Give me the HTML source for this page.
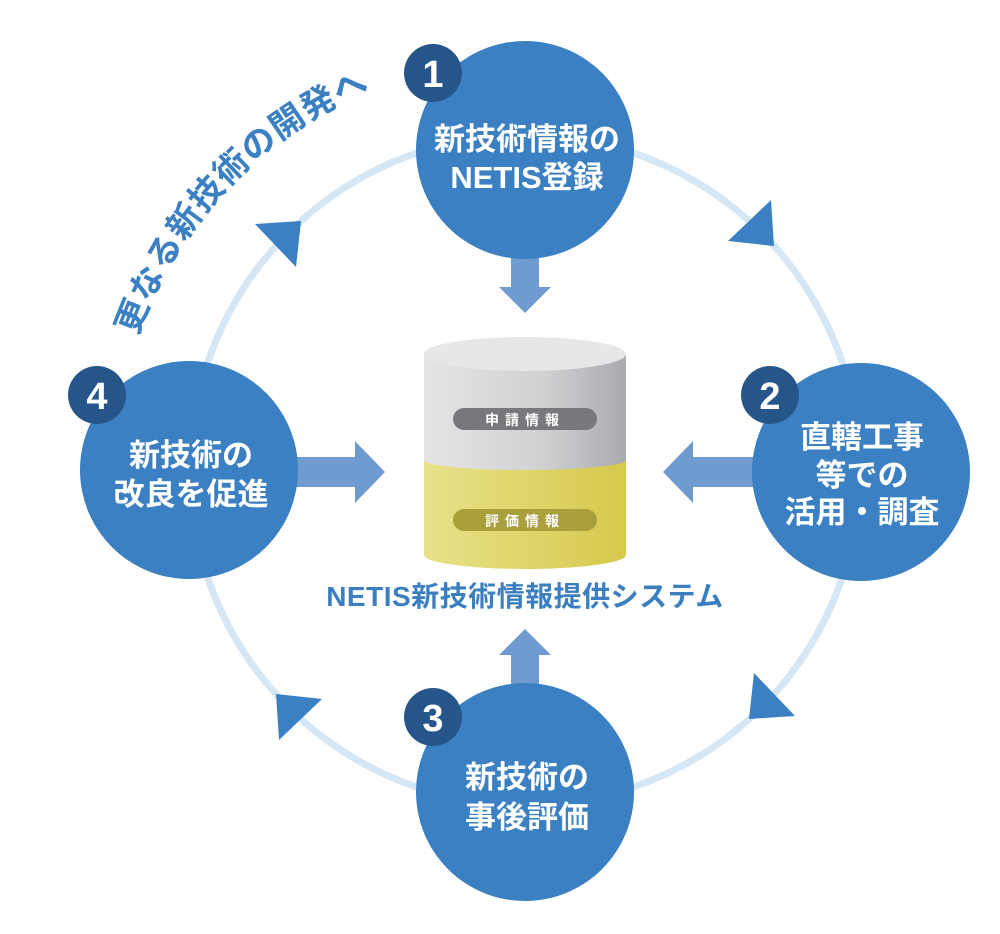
<!DOCTYPE html>
<html><head><meta charset="utf-8"><style>
html,body{margin:0;padding:0;background:#fff;}
svg{display:block;}
text{font-family:"Liberation Sans","Noto Sans CJK JP",sans-serif;font-weight:bold;}
</style></head><body>
<svg width="1000" height="934" viewBox="0 0 1000 934" xmlns="http://www.w3.org/2000/svg">
<defs>
<linearGradient id="gg" x1="0" x2="1" y1="0" y2="0"><stop offset="0" stop-color="#e4e5e6"/><stop offset="0.6" stop-color="#cfd0d2"/><stop offset="1" stop-color="#a9aaad"/></linearGradient>
<linearGradient id="yg" x1="0" x2="1" y1="0" y2="0"><stop offset="0" stop-color="#e8e18a"/><stop offset="1" stop-color="#d6c94c"/></linearGradient>
<path id="arc" d="M117.6 516.4 A410 410 0 0 1 550 60.8" fill="none"/>
</defs>
<circle cx="525" cy="470" r="335" fill="none" stroke="#d5e6f4" stroke-width="7"/>
<g fill="#3b80c2">
<polygon points="255,224 301,221 296,267"/>
<polygon points="255,224 301,221 296,267" transform="rotate(90 525 470)"/>
<polygon points="255,224 301,221 296,267" transform="rotate(180 525 470)"/>
<polygon points="255,224 301,221 296,267" transform="rotate(270 525 470)"/>
</g>
<text font-size="34" fill="#3b80c2" letter-spacing="1"><textPath href="#arc" startOffset="50%" text-anchor="middle">更なる新技術の開発へ</textPath></text>
<g fill="#6f9bd0">
<polygon points="511,256 539,256 539,287 551,287 525,313 499,287 511,287"/>
<polygon points="295,457 355,457 355,441 385,472 355,503 355,487 295,487"/>
<polygon points="755,457 693,457 693,441 663,472 693,503 693,487 755,487"/>
<polygon points="511,690 539,690 539,655 551,655 525,629 499,655 511,655"/>
</g>
<path d="M424 460 L424 555 A101 14 0 0 0 626 555 L626 460 Z" fill="url(#yg)"/>
<path d="M424 354 L424 460 A101 10 0 0 0 626 460 L626 354 Z" fill="url(#gg)"/>
<ellipse cx="525" cy="354" rx="101" ry="17" fill="#e6e7e8"/>
<rect x="453" y="408" width="144" height="22" rx="11" fill="#77787b"/>
<text x="525" y="425" font-size="14" fill="#fff" text-anchor="middle" letter-spacing="6">申請情報</text>
<rect x="453" y="509" width="144" height="22" rx="11" fill="#a9a03b"/>
<text x="525" y="526" font-size="14" fill="#fff" text-anchor="middle" letter-spacing="6">評価情報</text>
<text x="525" y="606" font-size="28" fill="#3b7fc1" text-anchor="middle" letter-spacing="0.5">NETIS新技術情報提供システム</text>
<g fill="#3b80c2">
<circle cx="525" cy="150" r="109"/>
<circle cx="861" cy="472" r="109"/>
<circle cx="525" cy="792" r="109"/>
<circle cx="189" cy="470" r="109"/>
</g>
<g fill="#fff" font-size="31" text-anchor="middle">
<text x="527" y="150">新技術情報の</text>
<text x="527" y="188">NETIS登録</text>
<text x="862" y="448">直轄工事</text>
<text x="862" y="486">等での</text>
<text x="862" y="523">活用・調査</text>
<text x="527" y="788">新技術の</text>
<text x="527" y="828">事後評価</text>
<text x="191" y="466">新技術の</text>
<text x="191" y="505">改良を促進</text>
</g>
<g fill="#26558a">
<circle cx="433" cy="73" r="29"/>
<circle cx="770" cy="395" r="29"/>
<circle cx="433" cy="717" r="29"/>
<circle cx="97" cy="395" r="29"/>
</g>
<g fill="#fff" font-size="38" text-anchor="middle">
<text x="433" y="87">1</text>
<text x="770" y="409">2</text>
<text x="433" y="731">3</text>
<text x="97" y="409">4</text>
</g>
</svg>
</body></html>
